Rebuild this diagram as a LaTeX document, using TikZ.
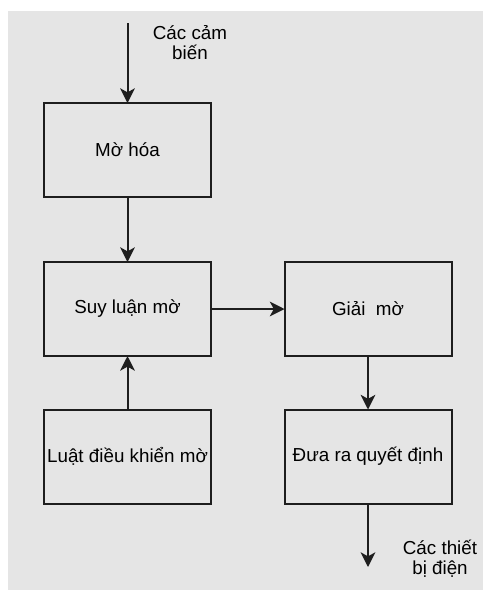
\documentclass[tikz,border=0pt]{standalone}
\usepackage{fontspec}
\setmainfont{Liberation Sans}
\usetikzlibrary{arrows.meta}
\definecolor{panel}{HTML}{E5E5E5}
\definecolor{ink}{HTML}{1E1E1E}
\begin{document}
\begin{tikzpicture}[x=0.75pt,y=-0.75pt,
  block/.style={draw=ink,line width=1.5pt,fill=panel,rectangle,
    minimum width=125.25pt,minimum height=70.5pt,inner sep=0pt,outer sep=0pt,
    font=\fontsize{14.1}{17}\selectfont,text=black},
  flow/.style={draw=ink,line width=1.5pt,
    -{Stealth[width=11pt,length=11pt,inset=3pt]}},
  tag/.style={align=center,font=\fontsize{14.1}{15}\selectfont,text=black,inner sep=0pt}]
  % canvas
  \useasboundingbox (0,0) rectangle (485,590);
  \fill[white] (0,0) rectangle (485,590);
  \fill[panel] (8,11) rectangle (483,590);

  % blocks
  \node[block] (fuzz)   at (127.5,150)   {Mờ hóa};
  \node[block] (infer)  at (127.5,309)   {Suy luận mờ};
  \node[block] (rules)  at (127.5,456.5) {Luật điều khiển mờ};
  \node[block] (defuzz) at (368,309)     {Giải\ \ mờ};
  \node[block] (decide) at (368,456.5)   {Đưa ra quyết định};

  % free ends of input and output
  \coordinate (in)  at (127.5,23);
  \coordinate (out) at (368,567);

  % connectors
  \draw[flow] (in) -- (fuzz.north);
  \draw[flow] (fuzz) -- (infer);
  \draw[flow] (rules) -- (infer);
  \draw[flow] (infer) -- (defuzz);
  \draw[flow] (defuzz) -- (decide);
  \draw[flow] (decide) -- (out);

  % labels
  \node[tag] (sensors) at (190,43)  {Các cảm\\biến};
  \node[tag] (devices) at (440,559) {Các thiết\\bị điện};
\end{tikzpicture}
\end{document}
